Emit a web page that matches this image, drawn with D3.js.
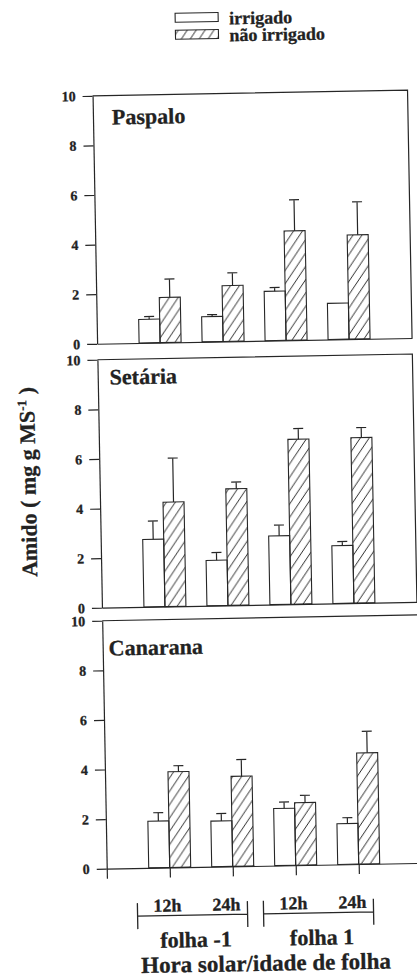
<!DOCTYPE html>
<html>
<head>
<meta charset="utf-8">
<script src="https://cdn.jsdelivr.net/npm/d3@7"></script>
<style>
  body { margin: 0; background: #fff; }
  text { font-family: "Liberation Serif", "Times New Roman", serif; font-weight: bold; fill: #222; stroke: #222; stroke-width: 0.3px; }
</style>
</head>
<body>
<script>
"use strict";

// Categories
const series = ["irrigado", "não irrigado"];
const hours = ["12h", "24h", "12h", "24h"];
const leaves = ["folha -1", "folha 1"];
const panels = ["Paspalo", "Setária", "Canarana"];
const yTicks = [0, 2, 4, 6, 8, 10];

// Amido (mg g MS-1), mean and error, one entry per hour/leaf group
const paspaloIrrigado = [0.95, 1.01, 1.99, 1.46];
const paspaloIrrigadoErr = [0.11, 0.08, 0.15, 0];
const paspaloNaoIrrigado = [1.82, 2.25, 4.41, 4.20];
const paspaloNaoIrrigadoErr = [0.74, 0.51, 1.25, 1.33];

const setariaIrrigado = [2.72, 1.83, 2.77, 2.33];
const setariaIrrigadoErr = [0.74, 0.31, 0.43, 0.16];
const setariaNaoIrrigado = [4.21, 4.70, 6.65, 6.67];
const setariaNaoIrrigadoErr = [1.77, 0.27, 0.43, 0.40];

const canaranaIrrigado = [1.88, 1.84, 2.30, 1.64];
const canaranaIrrigadoErr = [0.34, 0.30, 0.26, 0.24];
const canaranaNaoIrrigado = [3.86, 3.63, 2.52, 4.48];
const canaranaNaoIrrigadoErr = [0.24, 0.67, 0.29, 0.87];

const panelValues = [
    [[paspaloIrrigado, paspaloIrrigadoErr], [paspaloNaoIrrigado, paspaloNaoIrrigadoErr]],
    [[setariaIrrigado, setariaIrrigadoErr], [setariaNaoIrrigado, setariaNaoIrrigadoErr]],
    [[canaranaIrrigado, canaranaIrrigadoErr], [canaranaNaoIrrigado, canaranaNaoIrrigadoErr]]
];

// Layout
let width = 417,
    height = 977,
    panelHeight = 248,
    panelTops = [93, 357, 618],
    titleOffsets = [[19, 29], [12, 25], [6, 35]],
    ink = "#262626";

let svg = d3.select("body")
    .append("svg")
    .attr("width", width)
    .attr("height", height);

// diagonal hatch for "não irrigado"
svg.append("defs")
    .append("pattern")
    .attr("id", "hatch")
    .attr("patternUnits", "userSpaceOnUse")
    .attr("width", 9)
    .attr("height", 13)
    .append("path")
    .attr("d", "M0,13 L9,0 M-1,1.44 L1,-1.44 M8,14.44 L10,11.56")
    .attr("stroke", ink)
    .attr("stroke-width", 1);

// the scanned figure is tilted a little
let page = svg.append("g")
    .attr("transform", "rotate(-1.05, 250, 500)");

let x = d3.scaleLinear()
    .domain([0, 5])
    .range([100, 415]);

let xSub = d3.scaleBand()
    .domain(series)
    .range([-21, 21]);

let fills = ["#fff", "url(#hatch)"];

// Legend
let legend = page.append("g").attr("class", "legend");
series.forEach(function (s, i) {
    let ly = 12 + i * 17;
    legend.append("rect")
        .attr("x", 184)
        .attr("y", ly)
        .attr("width", 43)
        .attr("height", 9)
        .attr("fill", fills[i])
        .attr("stroke", ink)
        .attr("stroke-width", 1.1);
    legend.append("text")
        .attr("x", 238)
        .attr("y", ly + 12)
        .style("font-size", "18px")
        .text(s);
});

// Panels
panels.forEach(function (name, p) {
    let top = panelTops[p];
    let last = p === panels.length - 1;
    let y = d3.scaleLinear()
        .domain([0, 10])
        .range([top + panelHeight, top]);

    let g = page.append("g").attr("class", "panel");

    // frame: top and right (the bottom panel runs off the page)
    g.append("path")
        .attr("d", "M" + x(0) + "," + y(10) + "H" + x(5) + (last ? "" : "V" + y(0)))
        .attr("fill", "none")
        .attr("stroke", ink)
        .attr("stroke-width", 1.2);

    // bars
    series.forEach(function (s, k) {
        let vals = panelValues[p][k][0];
        let errs = panelValues[p][k][1];
        let bars = g.append("g")
            .selectAll("rect")
            .data(vals)
            .enter();

        bars.append("rect")
            .attr("x", function (d, i) { return x(i + 1) + xSub(s); })
            .attr("y", function (d) { return y(d); })
            .attr("width", xSub.bandwidth())
            .attr("height", function (d) { return y(0) - y(d); })
            .attr("fill", fills[k])
            .attr("stroke", ink)
            .attr("stroke-width", 1.1);

        // error bars (upper only)
        let cx = function (i) { return x(i + 1) + xSub(s) + xSub.bandwidth() / 2; };
        g.append("g")
            .selectAll("path")
            .data(vals.map(function (v, i) { return { v: v, e: errs[i], i: i }; })
                .filter(function (d) { return d.e > 0; }))
            .enter().append("path")
            .attr("d", function (d) {
                let c = cx(d.i);
                return "M" + c + "," + y(d.v) + "V" + y(d.v + d.e) +
                    "M" + (c - 5) + "," + y(d.v + d.e) + "H" + (c + 5);
            })
            .attr("fill", "none")
            .attr("stroke", ink)
            .attr("stroke-width", 1.2);
    });

    // y axis
    let yAxis = g.append("g")
        .attr("transform", "translate(" + x(0) + ",0)")
        .call(d3.axisLeft(y).tickValues(yTicks).tickSize(10).tickSizeOuter(0).tickPadding(7));
    yAxis.selectAll("path, line").attr("stroke", ink).attr("stroke-width", 1.2);
    yAxis.selectAll("text")
        .attr("fill", ink)
        .style("font-family", "'Liberation Serif', serif")
        .style("font-weight", "bold")
        .style("font-size", "14px");

    // x axis (ticks only on the bottom panel)
    let xAxis = g.append("g")
        .attr("transform", "translate(0," + y(0) + ")")
        .call(d3.axisBottom(x)
            .tickValues(last ? [0, 1, 2, 3, 4] : [])
            .tickSize(10)
            .tickSizeOuter(0)
            .tickFormat(""));
    xAxis.selectAll("path, line").attr("stroke", ink).attr("stroke-width", 1.2);

    // panel title
    g.append("text")
        .attr("x", x(0) + titleOffsets[p][0])
        .attr("y", top + titleOffsets[p][1])
        .style("font-size", "22px")
        .text(name);
});

// Hour / leaf labels under the bottom panel
let bottom = page.append("g").attr("class", "x-labels");
leaves.forEach(function (leaf, j) {
    let x1 = x(2 * j + 1) - 33,
        x2 = x(2 * j + 2) + 14,
        by = 914;
    bottom.append("path")
        .attr("d", "M" + x1 + "," + (by - 13) + "V" + (by + 13) +
            "M" + x1 + "," + by + "H" + x2 +
            "M" + x2 + "," + (by - 13) + "V" + (by + 13))
        .attr("fill", "none")
        .attr("stroke", ink)
        .attr("stroke-width", 1.3);
    bottom.append("text")
        .attr("x", x1 + 30)
        .attr("y", by - 4)
        .attr("text-anchor", "middle")
        .style("font-size", "18px")
        .text(hours[2 * j]);
    bottom.append("text")
        .attr("x", x2 - 21)
        .attr("y", by - 4)
        .attr("text-anchor", "middle")
        .style("font-size", "18px")
        .text(hours[2 * j + 1]);
    bottom.append("text")
        .attr("x", (x1 + x2) / 2 + 3)
        .attr("y", 946)
        .attr("text-anchor", "middle")
        .style("font-size", "22px")
        .text(leaf);
});

bottom.append("text")
    .attr("x", x(2.5))
    .attr("y", 971)
    .attr("text-anchor", "middle")
    .style("font-size", "23px")
    .text("Hora solar/idade de folha");

// Y title
let yTitle = page.append("text")
    .attr("transform", "translate(36,478) rotate(-90)")
    .attr("text-anchor", "middle")
    .style("font-size", "22px");
yTitle.append("tspan").text("Amido ( mg g MS");
yTitle.append("tspan").attr("dy", -8).style("font-size", "13px").text("-1");
yTitle.append("tspan").attr("dy", 8).text(" )");
</script>
</body>
</html>
